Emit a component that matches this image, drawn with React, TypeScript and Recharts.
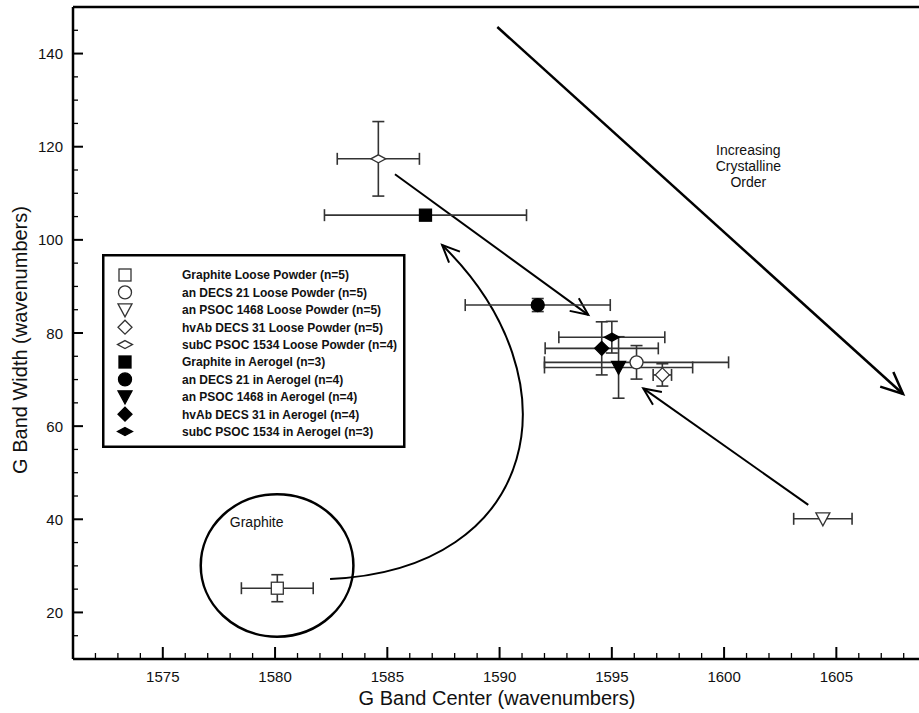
import React from 'react';
import {
  ScatterChart,
  Scatter,
  XAxis,
  YAxis,
  ErrorBar,
  ReferenceLine,
  ReferenceArea,
  Legend,
} from 'recharts';

// ---------------- data ----------------
const seriesNames = [
  'Graphite Loose Powder (n=5)',
  'an DECS 21 Loose Powder (n=5)',
  'an PSOC 1468 Loose Powder (n=5)',
  'hvAb DECS 31 Loose Powder (n=5)',
  'subC PSOC 1534 Loose Powder (n=4)',
  'Graphite in Aerogel (n=3)',
  'an DECS 21 in Aerogel (n=4)',
  'an PSOC 1468 in Aerogel (n=4)',
  'hvAb DECS 31 in Aerogel (n=4)',
  'subC PSOC 1534 in Aerogel (n=3)',
];
const bandCenter = [1580.1, 1596.1, 1604.4, 1597.25, 1584.6, 1586.7, 1591.7, 1595.3, 1594.55, 1595.0];
const bandWidth = [25.2, 73.7, 40.1, 71.0, 117.4, 105.3, 86.0, 72.6, 76.7, 79.1];
const centerErr = [1.6, 4.1, 1.3, 0.41, 1.83, 4.5, 3.23, 3.3, 2.52, 2.36];
const widthErr: (number | null)[] = [2.9, 3.6, null, 2.4, 8.0, null, 1.4, 6.6, 5.7, 3.4];

const xMajorTicks = [1575, 1580, 1585, 1590, 1595, 1600, 1605];
const yMajorTicks = [20, 40, 60, 80, 100, 120, 140];

const X_DOMAIN: [number, number] = [1571, 1610];
const Y_DOMAIN: [number, number] = [10, 150];

// annotations (data units)
const orderArrow = { from: [1589.9, 145.7], to: [1607.97, 66.9] };
const straightArrows = [
  { from: [1585.34, 114.1], to: [1593.95, 83.9] },
  { from: [1603.75, 43.1], to: [1596.4, 68.1] },
];
const graphiteCurve = [
  [1582.45, 27.2],
  [1591.8, 29.1],
  [1593.58, 69.9],
  [1587.44, 98.9],
];
const graphiteEllipse = { x1: 1576.69, x2: 1583.49, y1: 14.8, y2: 45.4 };
const graphiteLabel = { x: 1579.18, y: 39.5, text: 'Graphite' };
const orderLabel = { x: 1601.08, y: 115.9, lines: ['Increasing', 'Crystalline', 'Order'] };

// ---------------- styles ----------------
const FONT = '"Liberation Sans", Arial, Helvetica, sans-serif';
const markerKinds = ['square', 'circle', 'triangle', 'diamond', 'flat', 'square', 'circle', 'triangle', 'diamond', 'flat'];
const markerFilled = [false, false, false, false, false, true, true, true, true, true];

const xTicks: number[] = [];
for (let v = X_DOMAIN[0] + 1; v < X_DOMAIN[1]; v++) xTicks.push(v);
const yTicks: number[] = [];
for (let v = Y_DOMAIN[0] + 5; v < Y_DOMAIN[1]; v += 5) yTicks.push(v);

function Marker({ kind, filled, cx, cy }: { kind: string; filled: boolean; cx: number; cy: number }) {
  const fill = filled ? '#000' : '#fff';
  const stroke = filled ? '#000' : '#333';
  const sw = 1.3;
  if (kind === 'square') return <rect x={cx - 6} y={cy - 6} width={12} height={12} fill={fill} stroke={stroke} strokeWidth={sw} />;
  if (kind === 'circle') return <circle cx={cx} cy={cy} r={6.5} fill={fill} stroke={stroke} strokeWidth={sw} />;
  if (kind === 'triangle')
    return <polygon points={`${cx - 7},${cy - 6} ${cx + 7},${cy - 6} ${cx},${cy + 7}`} fill={fill} stroke={stroke} strokeWidth={sw} strokeLinejoin="miter" />;
  if (kind === 'diamond')
    return <polygon points={`${cx},${cy - 7} ${cx + 7},${cy} ${cx},${cy + 7} ${cx - 7},${cy}`} fill={fill} stroke={stroke} strokeWidth={sw} />;
  return <polygon points={`${cx},${cy - 4} ${cx + 7.5},${cy} ${cx},${cy + 4} ${cx - 7.5},${cy}`} fill={fill} stroke={stroke} strokeWidth={sw} />;
}

const XTick = (props: any) => {
  const { x, y, payload } = props;
  const major = payload.value % 5 === 0;
  return (
    <g>
      <line x1={x} y1={y} x2={x} y2={y - (major ? 12 : 6)} stroke="#000" strokeWidth={major ? 2 : 1.3} />
      {major && (
        <text x={x} y={y + 23} textAnchor="middle" fontSize={15} fontFamily={FONT} fill="#111">
          {payload.value}
        </text>
      )}
    </g>
  );
};

const YTick = (props: any) => {
  const { x, y, payload } = props;
  const major = payload.value % 20 === 0;
  return (
    <g>
      <line x1={x} y1={y} x2={x + (major ? 10 : 5)} y2={y} stroke="#000" strokeWidth={major ? 2 : 1.3} />
      {major && (
        <text x={x - 10} y={y + 5.5} textAnchor="end" fontSize={15} fontFamily={FONT} fill="#111">
          {payload.value}
        </text>
      )}
    </g>
  );
};

function arrowHead(tx: number, ty: number, fx: number, fy: number, len: number, ang: number) {
  const a = Math.atan2(fy - ty, fx - tx);
  const p1 = [tx + len * Math.cos(a + ang), ty + len * Math.sin(a + ang)];
  const p2 = [tx + len * Math.cos(a - ang), ty + len * Math.sin(a - ang)];
  return `M${p1[0]},${p1[1]} L${tx},${ty} L${p2[0]},${p2[1]}`;
}

const Annotations = (props: any) => {
  const { x, y, width, height } = props;
  const sx = (v: number) => x + ((v - X_DOMAIN[0]) / (X_DOMAIN[1] - X_DOMAIN[0])) * width;
  const sy = (v: number) => y + ((Y_DOMAIN[1] - v) / (Y_DOMAIN[1] - Y_DOMAIN[0])) * height;

  const oa = {
    x1: sx(orderArrow.from[0]), y1: sy(orderArrow.from[1]),
    x2: sx(orderArrow.to[0]), y2: sy(orderArrow.to[1]),
  };
  const c = graphiteCurve.map(([a, b]) => [sx(a), sy(b)]);
  const ex1 = sx(graphiteEllipse.x1), ex2 = sx(graphiteEllipse.x2);
  const ey1 = sy(graphiteEllipse.y2), ey2 = sy(graphiteEllipse.y1);

  return (
    <g>
      {/* big order arrow */}
      <line {...oa} stroke="#000" strokeWidth={2.5} />
      <path d={arrowHead(oa.x2, oa.y2, oa.x1, oa.y1, 24, 0.42)} fill="none" stroke="#000" strokeWidth={2.5} />
      {/* straight arrows */}
      {straightArrows.map((s, i) => {
        const x1 = sx(s.from[0]), y1 = sy(s.from[1]), x2 = sx(s.to[0]), y2 = sy(s.to[1]);
        return (
          <g key={i}>
            <line x1={x1} y1={y1} x2={x2} y2={y2} stroke="#000" strokeWidth={2} />
            <path d={arrowHead(x2, y2, x1, y1, 19, 0.42)} fill="none" stroke="#000" strokeWidth={2} />
          </g>
        );
      })}
      {/* curved arrow */}
      <path
        d={`M${c[0][0]},${c[0][1]} C${c[1][0]},${c[1][1]} ${c[2][0]},${c[2][1]} ${c[3][0]},${c[3][1]}`}
        fill="none"
        stroke="#000"
        strokeWidth={2}
      />
      <path d={arrowHead(c[3][0], c[3][1], c[2][0], c[2][1], 19, 0.42)} fill="none" stroke="#000" strokeWidth={2} />
      {/* graphite ellipse */}
      <ellipse cx={(ex1 + ex2) / 2} cy={(ey1 + ey2) / 2} rx={(ex2 - ex1) / 2} ry={(ey2 - ey1) / 2} fill="none" stroke="#000" strokeWidth={2.5} />
      <text x={sx(graphiteLabel.x)} y={sy(graphiteLabel.y) + 5} textAnchor="middle" fontSize={14} fontFamily={FONT} fill="#111">
        {graphiteLabel.text}
      </text>
      {orderLabel.lines.map((t, i) => (
        <text key={t} x={sx(orderLabel.x)} y={sy(orderLabel.y) + 5 + (i - 1) * 16} textAnchor="middle" fontSize={14} fontFamily={FONT} fill="#111">
          {t}
        </text>
      ))}
      {/* axis titles */}
      <text x={497} y={705} textAnchor="middle" fontSize={20} fontFamily={FONT} fill="#111">
        G Band Center (wavenumbers)
      </text>
      <text transform="translate(27,340) rotate(-90)" textAnchor="middle" fontSize={20} fontFamily={FONT} fill="#111">
        G Band Width (wavenumbers)
      </text>
    </g>
  );
};

const LegendBox = () => (
  <svg width={305} height={195} style={{ display: 'block' }}>
    <rect x={1.25} y={1.25} width={301} height={191.5} fill="#fff" stroke="#000" strokeWidth={2.5} />
    {seriesNames.map((n, i) => {
      const cy = 21 + i * 17.4;
      return (
        <g key={n}>
          <Marker kind={markerKinds[i]} filled={markerFilled[i]} cx={23} cy={cy} />
          <text x={80} y={cy + 4.3} fontSize={12} fontWeight="bold" fontFamily={FONT} fill="#111">
            {n}
          </text>
        </g>
      );
    })}
  </svg>
);

export default function App() {
  return (
    <div style={{ position: 'absolute', left: 0, top: 0, width: 919, height: 713, overflow: 'hidden', background: '#fff' }}>
      <ScatterChart width={960} height={713} margin={{ top: 7, right: 11.4, left: 0, bottom: 0 }}>
        <XAxis
          type="number"
          dataKey="x"
          domain={X_DOMAIN}
          allowDataOverflow
          ticks={xTicks}
          interval={0}
          tickSize={0}
          tickMargin={0}
          tickLine={false}
          tick={<XTick />}
          height={54}
          axisLine={{ stroke: '#000', strokeWidth: 2.5 }}
        />
        <YAxis
          type="number"
          dataKey="y"
          domain={Y_DOMAIN}
          allowDataOverflow
          ticks={yTicks}
          interval={0}
          tickSize={0}
          tickMargin={0}
          tickLine={false}
          tick={<YTick />}
          width={73}
          axisLine={{ stroke: '#000', strokeWidth: 2.5 }}
        />
        <ReferenceLine y={Y_DOMAIN[1]} stroke="#000" strokeWidth={2.5} />
        <ReferenceArea x1={X_DOMAIN[0]} x2={X_DOMAIN[1]} y1={Y_DOMAIN[0]} y2={Y_DOMAIN[1]} shape={(p: any) => <Annotations {...p} />} />
        {seriesNames.map((name, i) => (
          <Scatter
            key={name}
            name={name}
            data={[{ x: bandCenter[i], y: bandWidth[i], ex: centerErr[i], ey: widthErr[i] ?? 0 }]}
            isAnimationActive={false}
            shape={(p: any) => <Marker kind={markerKinds[i]} filled={markerFilled[i]} cx={p.cx} cy={p.cy} />}
          >
            <ErrorBar dataKey="ex" direction="x" width={6} stroke="#333" strokeWidth={1.6} />
            {widthErr[i] !== null && <ErrorBar dataKey="ey" direction="y" width={6} stroke="#333" strokeWidth={1.6} />}
          </Scatter>
        ))}
        <Legend
          layout="vertical"
          align="center"
          verticalAlign="middle"
          content={() => <LegendBox />}
          wrapperStyle={{ left: 102, top: 254, width: 305, height: 195 }}
        />
      </ScatterChart>
    </div>
  );
}
